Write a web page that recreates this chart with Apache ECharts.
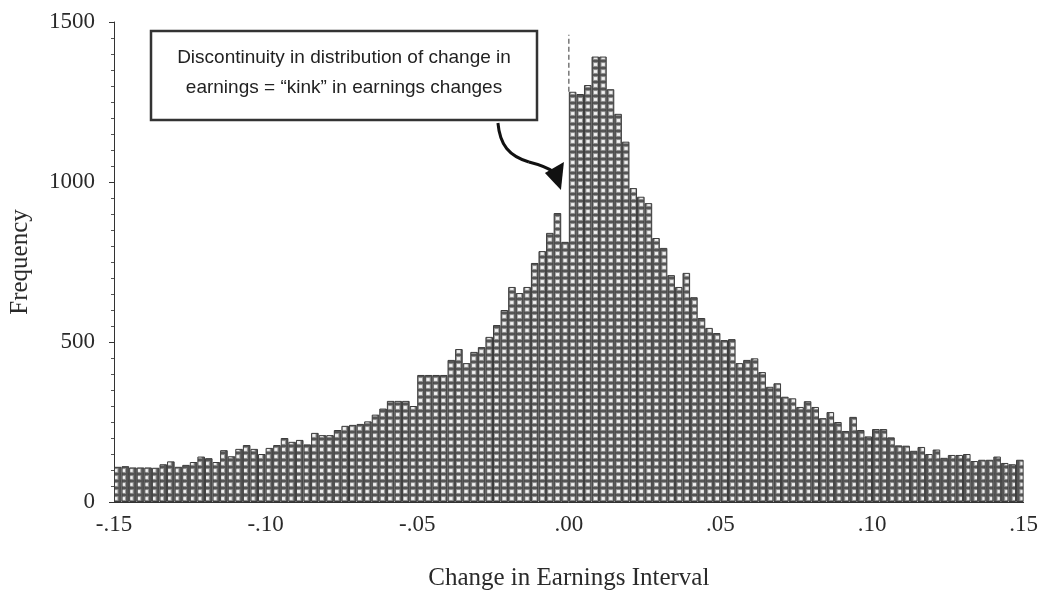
<!DOCTYPE html>
<html>
<head>
<meta charset="utf-8">
<script src="https://cdn.jsdelivr.net/npm/echarts@6/dist/echarts.min.js"></script>
<style>
  html, body { margin: 0; padding: 0; background: #ffffff; }
  #chart { width: 1041px; height: 596px; }
</style>
</head>
<body>
<div id="chart"></div>
<script>
// Histogram of scaled change in earnings, bins of width .0025 from -.15 to .15
const binStart = -0.15;
const binWidth = 0.0025;
const frequency = [
  110, 112, 108, 108, 108, 107, 118, 127, 110, 116,
  125, 142, 137, 125, 162, 143, 166, 178, 166, 150,
  169, 178, 200, 188, 194, 180, 216, 209, 209, 225,
  238, 241, 244, 252, 273, 292, 316, 316, 316, 300,
  397, 397, 397, 397, 444, 478, 434, 469, 484, 516,
  553, 600, 672, 653, 672, 747, 784, 841, 903, 813,
  1282, 1275, 1303, 1392, 1392, 1290, 1213, 1126, 981, 954,
  934, 825, 794, 709, 672, 716, 640, 575, 544, 528,
  506, 509, 434, 444, 449, 406, 360, 371, 329, 324,
  297, 315, 297, 262, 281, 250, 222, 266, 225, 205,
  228, 228, 202, 177, 176, 160, 172, 150, 164, 138,
  147, 147, 150, 128, 132, 132, 142, 122, 118, 132
];
const binLabels = frequency.map((_, i) => (binStart + (i + 0.5) * binWidth).toFixed(5));

const xTickValues = [-0.15, -0.10, -0.05, 0, 0.05, 0.10, 0.15];
const xTickLabels = ['-.15', '-.10', '-.05', '.00', '.05', '.10', '.15'];
const xAxisTitle = 'Change in Earnings Interval';
const yAxisTitle = 'Frequency';

// dashed marker at zero change, drawn from the first positive bin upward
const zeroMarkerTop = 1460;
// point the callout arrow lands on
const arrowTarget = [-0.0026, 975];
const noteLines = [
  'Discontinuity in distribution of change in',
  'earnings = \u201ckink\u201d in earnings changes'
];

const GRID = { left: 112, right: 14, top: 22, bottom: 94 };
const W = 1041, H = 596;
const SERIF = "'Liberation Serif', 'DejaVu Serif', serif";
const SANS = "'Liberation Sans Narrow', 'Liberation Sans', Arial, sans-serif";

// Cross-hatched fill: one grid cell per bin, rows stacked from the baseline
function cellPattern() {
  const plotW = W - GRID.left - GRID.right;
  const count = 13;
  const tileW = Math.round(plotW / frequency.length * count);
  const cw = tileW / count;
  const ch = 7;
  const offX = (GRID.left % tileW) % cw;
  const offY = (H - GRID.bottom) % ch;
  const c = document.createElement('canvas');
  c.width = tileW; c.height = ch;
  const g = c.getContext('2d');
  g.fillStyle = '#555555';
  g.fillRect(0, 0, tileW, ch);
  for (let k = -1; k <= count; k++) {
    for (let r = -1; r <= 1; r++) {
      const x = offX + k * cw;
      const y = offY + r * ch;
      g.fillStyle = '#9c9c9c';
      g.fillRect(x + 1.2, y + 1.2, cw - 2.4, ch - 2.4);
      g.fillStyle = '#f2f2f2';
      g.fillRect(x + 2.2, y + 2.1, cw - 4.4, ch - 4.2);
    }
  }
  return { image: c, repeat: 'repeat' };
}

const chart = echarts.init(document.getElementById('chart'), null, { renderer: 'canvas' });

const option = {
  animation: false,
  backgroundColor: '#ffffff',
  grid: { left: GRID.left, right: GRID.right, top: GRID.top, bottom: GRID.bottom, containLabel: false },
  xAxis: [
    {
      type: 'category',
      data: binLabels,
      show: false,
      boundaryGap: true
    },
    {
      type: 'value',
      min: -0.15,
      max: 0.15,
      interval: 0.05,
      position: 'bottom',
      axisLine: { show: true, onZero: false, lineStyle: { color: '#333', width: 1 } },
      axisTick: { show: false },
      splitLine: { show: false },
      axisLabel: {
        margin: 11,
        fontFamily: SERIF,
        fontSize: 23,
        color: '#2a2a2a',
        formatter: (v) => {
          const i = xTickValues.findIndex(t => Math.abs(t - v) < 1e-9);
          return i >= 0 ? xTickLabels[i] : '';
        }
      },
      name: xAxisTitle,
      nameLocation: 'middle',
      nameGap: 64,
      nameTextStyle: { fontFamily: SERIF, fontSize: 25, color: '#2a2a2a' }
    }
  ],
  yAxis: {
    type: 'value',
    min: 0,
    max: 1500,
    interval: 500,
    axisLine: { show: true, onZero: false, lineStyle: { color: '#333', width: 1 } },
    axisTick: { show: true, length: 5, lineStyle: { color: '#333' } },
    minorTick: { show: true, splitNumber: 10, length: 3, lineStyle: { color: '#555' } },
    splitLine: { show: false },
    axisLabel: {
      margin: 19, fontFamily: SERIF, fontSize: 23, color: '#2a2a2a',
      formatter: (v) => String(v)
    },
    name: yAxisTitle,
    nameLocation: 'middle',
    nameGap: 81,
    nameTextStyle: { fontFamily: SERIF, fontSize: 25, color: '#2a2a2a' }
  },
  series: [
    {
      type: 'bar',
      xAxisIndex: 0,
      yAxisIndex: 0,
      data: frequency,
      barCategoryGap: '0%',
      itemStyle: { color: cellPattern(), borderColor: '#3c3c3c', borderWidth: 1 },
      silent: true
    },
    {
      type: 'line',
      xAxisIndex: 1,
      yAxisIndex: 0,
      data: [[0, frequency[frequency.length / 2]], [0, zeroMarkerTop]],
      symbol: 'none',
      lineStyle: { color: '#777', width: 1.5, type: [5, 3] },
      silent: true,
      z: 5
    }
  ]
};

chart.setOption(option);

// Callout box with curved arrow pointing at the jump in the distribution
const tip = chart.convertToPixel({ xAxisIndex: 1, yAxisIndex: 0 }, arrowTarget);
const tx = tip[0], ty = tip[1];
chart.setOption({
  graphic: [
    {
      type: 'rect',
      shape: { x: 151, y: 31, width: 386, height: 89 },
      style: { fill: '#ffffff', stroke: '#333', lineWidth: 2.5 },
      z: 10
    },
    {
      type: 'text',
      x: 344, y: 58,
      style: {
        text: noteLines[0], font: '19px ' + SANS, fill: '#222',
        textAlign: 'center', textVerticalAlign: 'middle'
      },
      z: 11
    },
    {
      type: 'text',
      x: 344, y: 88,
      style: {
        text: noteLines[1], font: '19px ' + SANS, fill: '#222',
        textAlign: 'center', textVerticalAlign: 'middle'
      },
      z: 11
    },
    {
      type: 'bezierCurve',
      shape: {
        x1: tx - 63, y1: ty - 67,
        cpx1: tx - 61, cpy1: ty - 45,
        cpx2: tx - 52, cpy2: ty - 34,
        x2: tx - 32, y2: ty - 28
      },
      style: { fill: null, stroke: '#111', lineWidth: 3 },
      z: 11
    },
    {
      type: 'bezierCurve',
      shape: {
        x1: tx - 32, y1: ty - 28,
        cpx1: tx - 20, cpy1: ty - 25,
        cpx2: tx - 13, cpy2: ty - 22,
        x2: tx - 7, y2: ty - 18
      },
      style: { fill: null, stroke: '#111', lineWidth: 3 },
      z: 11
    },
    {
      type: 'polygon',
      shape: { points: [[tx, ty], [tx - 16, ty - 17], [tx + 3, ty - 28]] },
      style: { fill: '#111' },
      z: 11
    }
  ]
});
</script>
</body>
</html>
